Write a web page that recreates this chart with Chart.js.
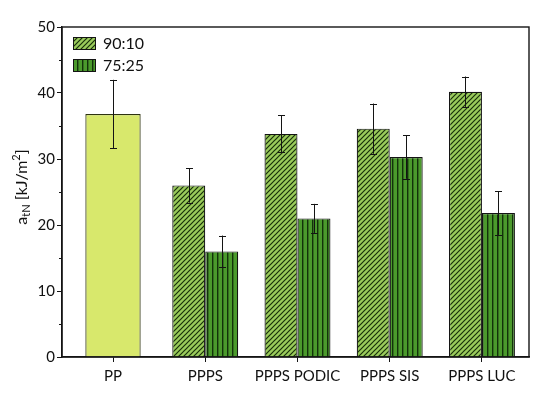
<!DOCTYPE html>
<html lang="en">
<head>
  <meta charset="UTF-8">
  <title>Notched impact strength</title>
  <script src="https://cdn.jsdelivr.net/npm/chart.js"></script>
  <style>
    html, body {
      margin: 0;
      padding: 0;
      background: #fff;
    }
    .chart-box {
      width: 550px;
      height: 397px;
      position: relative;
    }
  </style>
</head>
<body>
  <div class="chart-box">
    <canvas id="impactChart"></canvas>
  </div>

  <script>
    // Data
    const categories = ['PP', 'PPPS', 'PPPS PODIC', 'PPPS SIS', 'PPPS LUC'];
    const seriesNames = ['90:10', '75:25'];
    const ppValue = [36.8, null, null, null, null];
    const ppError = [5.2, null, null, null, null];
    const ratio9010 = [null, 26.0, 33.8, 34.6, 40.2];
    const error9010 = [null, 2.6, 2.8, 3.8, 2.3];
    const ratio7525 = [null, 16.0, 21.0, 30.3, 21.8];
    const error7525 = [null, 2.4, 2.2, 3.3, 3.3];
    const yTickLabels = [0, 10, 20, 30, 40, 50];

    const INK = '#141414';

    // hatch fills
    function makeDiagonal(bg, line) {
      const c = document.createElement('canvas');
      c.width = 5; c.height = 5;
      const g = c.getContext('2d');
      g.fillStyle = bg;
      g.fillRect(0, 0, 5, 5);
      g.strokeStyle = line;
      g.lineWidth = 1.2;
      g.beginPath();
      g.moveTo(-1, 6); g.lineTo(6, -1);
      g.moveTo(-1, 1); g.lineTo(1, -1);
      g.moveTo(4, 6); g.lineTo(6, 4);
      g.stroke();
      return g.createPattern(c, 'repeat');
    }

    function makeVertical(bg, line) {
      const c = document.createElement('canvas');
      c.width = 5; c.height = 5;
      const g = c.getContext('2d');
      g.fillStyle = bg;
      g.fillRect(0, 0, 5, 5);
      g.fillStyle = line;
      g.fillRect(2, 0, 1.4, 5);
      return g.createPattern(c, 'repeat');
    }

    const fill9010 = makeDiagonal('#9acb5b', '#17300a');
    const fill7525 = makeVertical('#4b9a2c', '#12320a');

    function toPoints(values, errors) {
      const pts = [];
      values.forEach((v, i) => {
        if (v !== null) pts.push({ x: i + 1, y: v, err: errors[i] });
      });
      return pts;
    }

    // error bars, drawn over the bars
    const errorBarPlugin = {
      id: 'errorBars',
      afterDatasetsDraw(chart) {
        const ctx = chart.ctx;
        const y = chart.scales.y;
        ctx.save();
        ctx.strokeStyle = INK;
        ctx.lineWidth = 1;
        chart.data.datasets.forEach((ds, di) => {
          const meta = chart.getDatasetMeta(di);
          meta.data.forEach((bar, i) => {
            const p = ds.data[i];
            if (!p || p.err == null) return;
            const top = y.getPixelForValue(p.y + p.err);
            const bot = y.getPixelForValue(p.y - p.err);
            const x = Math.round(bar.x) + 0.5;
            ctx.beginPath();
            ctx.moveTo(x, top); ctx.lineTo(x, bot);
            ctx.moveTo(x - 3.5, Math.round(top) + 0.5); ctx.lineTo(x + 3.5, Math.round(top) + 0.5);
            ctx.moveTo(x - 3.5, Math.round(bot) + 0.5); ctx.lineTo(x + 3.5, Math.round(bot) + 0.5);
            ctx.stroke();
          });
        });
        ctx.restore();
      }
    };

    // frame, minor ticks, legend and y title
    const decorPlugin = {
      id: 'decor',
      afterDraw(chart) {
        const ctx = chart.ctx;
        const area = chart.chartArea;
        const y = chart.scales.y;
        ctx.save();

        ctx.strokeStyle = INK;
        ctx.lineWidth = 1.4;
        ctx.strokeRect(area.left, area.top, area.right - area.left, area.bottom - area.top);

        // minor ticks on y
        ctx.lineWidth = 1;
        for (let v = 5; v < 50; v += 10) {
          const py = Math.round(y.getPixelForValue(v)) + 0.5;
          ctx.beginPath();
          ctx.moveTo(area.left - 3, py);
          ctx.lineTo(area.left, py);
          ctx.stroke();
        }

        // legend
        const fills = [fill9010, fill7525];
        ctx.font = '16px Lato';
        ctx.textBaseline = 'middle';
        seriesNames.forEach((name, i) => {
          const bx = area.left + 11;
          const by = area.top + 10 + i * 22;
          ctx.fillStyle = fills[i];
          ctx.fillRect(bx, by, 23, 13);
          ctx.strokeStyle = INK;
          ctx.lineWidth = 1;
          ctx.strokeRect(bx + 0.5, by + 0.5, 22, 12);
          ctx.fillStyle = '#111';
          ctx.fillText(name, bx + 30, by + 7);
        });

        // y axis title: a_tN [kJ/m^2]
        const parts = [
          { t: 'a', size: 16, dy: 0 },
          { t: 'tN', size: 11, dy: 4 },
          { t: ' [kJ/m', size: 16, dy: 0 },
          { t: '2', size: 11, dy: -6 },
          { t: ']', size: 16, dy: 0 }
        ];
        let total = 0;
        parts.forEach(p => {
          ctx.font = p.size + 'px Lato';
          p.w = ctx.measureText(p.t).width;
          total += p.w;
        });
        ctx.translate(22, (area.top + area.bottom) / 2 - 5);
        ctx.rotate(-Math.PI / 2);
        ctx.textBaseline = 'middle';
        ctx.textAlign = 'left';
        let cx = -total / 2;
        parts.forEach(p => {
          ctx.font = p.size + 'px Lato';
          ctx.fillText(p.t, cx, p.dy);
          cx += p.w;
        });

        ctx.restore();
      }
    };

    Chart.defaults.font.family = 'Lato';
    Chart.defaults.font.size = 15;
    Chart.defaults.color = '#111';

    new Chart(document.getElementById('impactChart'), {
      type: 'bar',
      data: {
        datasets: [
          {
            label: 'PP',
            data: toPoints(ppValue, ppError),
            backgroundColor: '#d8e86c',
            borderColor: '#2e3310',
            borderWidth: 1.2,
            grouped: false,
            categoryPercentage: 0.6,
            barPercentage: 1
          },
          {
            label: seriesNames[0],
            data: toPoints(ratio9010, error9010),
            backgroundColor: fill9010,
            borderColor: INK,
            borderWidth: 1.2,
            categoryPercentage: 0.715,
            barPercentage: 1
          },
          {
            label: seriesNames[1],
            data: toPoints(ratio7525, error7525),
            backgroundColor: fill7525,
            borderColor: INK,
            borderWidth: 1.2,
            categoryPercentage: 0.715,
            barPercentage: 1
          }
        ]
      },
      options: {
        responsive: true,
        maintainAspectRatio: false,
        animation: false,
        layout: {
          padding: { top: 27, right: 21, left: 0, bottom: 0 }
        },
        plugins: {
          legend: { display: false },
          tooltip: { enabled: false }
        },
        scales: {
          x: {
            type: 'linear',
            offset: false,
            min: 0.447,
            max: 5.51,
            afterFit: s => { s.height = 40; },
            grid: {
              offset: false,
              drawOnChartArea: false,
              tickLength: 5,
              tickColor: INK
            },
            border: { color: INK, width: 1.4 },
            ticks: {
              stepSize: 1,
              includeBounds: false,
              autoSkip: false,
              maxRotation: 0,
              padding: 5,
              color: '#111',
              callback: v => Number.isInteger(v) ? categories[v - 1] : ''
            }
          },
          y: {
            min: 0,
            max: 50,
            afterFit: s => { s.width = 62; },
            grid: {
              drawOnChartArea: false,
              tickLength: 5,
              tickColor: c => (c.tick && c.tick.value % 10 === 0) ? INK : 'transparent'
            },
            border: { color: INK, width: 1.4 },
            ticks: {
              stepSize: 5,
              padding: 2,
              color: '#111',
              callback: v => yTickLabels.includes(v) ? String(v) : ''
            }
          }
        }
      },
      plugins: [errorBarPlugin, decorPlugin]
    });
  </script>
</body>
</html>
